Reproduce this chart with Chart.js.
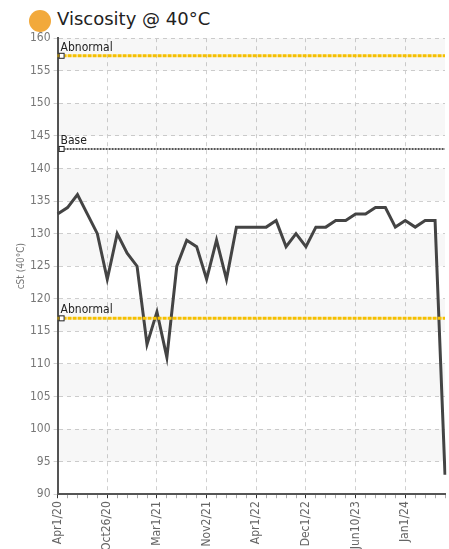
<!DOCTYPE html>
<html>
<head>
<meta charset="utf-8">
<script src="https://cdn.jsdelivr.net/npm/chart.js@4"></script>
<style>
  body { margin: 0; background: #fff; font-family: 'DejaVu Sans', sans-serif; overflow: hidden; }
  #title { position: absolute; left: 29px; top: 4px; font-size: 18px; color: #222; display: flex; align-items: center; }
  #title .dot { width: 22px; height: 22px; border-radius: 50%; background: #f2a93b; margin-right: 6px; margin-top: 6px; }
  #wrap { position: absolute; left: 0; top: 28px; width: 449px; height: 526px; }
</style>
</head>
<body>
<div id="title"><span class="dot"></span>Viscosity @ 40°C</div>
<div id="wrap"><canvas id="chart"></canvas></div>
<script>
const labels = ['Apr1/20','','','','','Oct26/20','','','','','Mar1/21','','','','','Nov2/21','','','','',
  'Apr1/22','','','','','Dec1/22','','','','','Jun10/23','','','','','Jan1/24','','','',''];
const viscosity = [133,134,136,133,130,123,130,127,125,113,118,111,125,129,128,123,129,123,131,131,
  131,131,132,128,130,128,131,131,132,132,133,133,134,134,131,132,131,132,132,93];
const refNames = ['Abnormal', 'Base', 'Abnormal'];
const refValues = [157.3, 143, 117];
const refColors = ['#f5c000', '#555555', '#f5c000'];

const refDatasets = refValues.map((v, i) => ({
    label: refNames[i],
    data: labels.map(() => v),
    borderColor: refColors[i],
    borderWidth: i === 1 ? 2 : 3,
    borderDash: i === 1 ? [2, 1] : [4, 1],
    pointRadius: 0,
    fill: false
}));

// alternating light bands between y gridlines
const bandPlugin = {
    id: 'bands',
    beforeDatasetsDraw(chart) {
        const { ctx, chartArea, scales: { y } } = chart;
        ctx.save();
        ctx.fillStyle = 'rgba(0,0,0,0.03)';
        for (let v = 90; v < 160; v += 10) {
            const top = y.getPixelForValue(v + 10), bot = y.getPixelForValue(v + 5);
            ctx.fillRect(chartArea.left, top, chartArea.right - chartArea.left, bot - top);
        }
        ctx.restore();
    }
};

// reference line labels with small square marker
const refLabelPlugin = {
    id: 'refLabels',
    afterDatasetsDraw(chart) {
        const { ctx, chartArea, scales: { y } } = chart;
        ctx.save();
        refValues.forEach((v, i) => {
            const py = y.getPixelForValue(v);
            const px = chartArea.left + 4;
            ctx.fillStyle = '#fff';
            ctx.fillRect(px - 2, py - 2, 5, 5);
            ctx.strokeStyle = '#222';
            ctx.lineWidth = 1;
            ctx.strokeRect(px - 2.5, py - 2.5, 5, 5);
            ctx.fillStyle = '#222';
            ctx.font = '12px "DejaVu Sans Condensed", sans-serif';
            ctx.textBaseline = 'bottom';
            ctx.fillText(refNames[i], px - 1, py - 2);
        });
        ctx.restore();
    }
};

new Chart(document.getElementById('chart'), {
    type: 'line',
    data: {
        labels: labels,
        datasets: [...refDatasets, {
            label: 'Viscosity',
            data: viscosity,
            borderColor: '#444',
            borderWidth: 3,
            pointRadius: 0,
            tension: 0,
            fill: false
        }]
    },
    options: {
        responsive: true,
        maintainAspectRatio: false,
        animation: false,
        layout: { padding: { top: 2, right: 4, left: 15, bottom: 0 } },
        plugins: { legend: { display: false }, tooltip: { enabled: false } },
        scales: {
            x: {
                offset: false,
                afterFit: s => { s.paddingRight = 0; },
                grid: {
                    color: ctx => (ctx.index % 5 === 0 ? '#d0d0d0' : 'rgba(0,0,0,0)'),
                    tickColor: ctx => (ctx.index % 5 === 0 ? '#333' : '#aaa'),
                    tickLength: 4,
                    drawTicks: true
                },
                border: { color: '#555', width: 2, dash: [4, 4] },
                ticks: {
                    autoSkip: false, maxRotation: 90, minRotation: 90,
                    color: '#666', font: { size: 12, family: '"DejaVu Sans Condensed", sans-serif' },
                    callback: (v, i) => labels[i]
                }
            },
            y: {
                min: 90, max: 160,
                grid: { color: '#d0d0d0', tickLength: 4 },
                border: { color: '#555', width: 2, dash: [4, 4] },
                ticks: { stepSize: 5, color: '#777', font: { size: 12, family: '"DejaVu Sans Condensed", sans-serif' } },
                title: { display: true, text: 'cSt (40°C)', color: '#777', font: { size: 10, family: '"DejaVu Sans Condensed", sans-serif' }, padding: 0 }
            }
        }
    },
    plugins: [bandPlugin, refLabelPlugin]
});
</script>
</body>
</html>
